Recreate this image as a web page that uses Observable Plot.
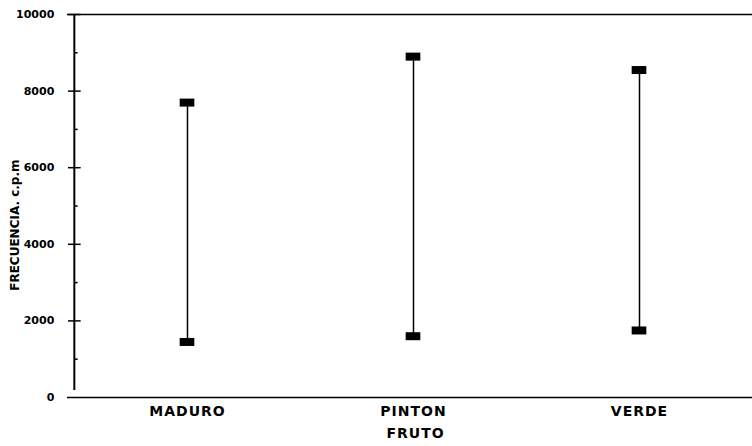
<!DOCTYPE html>
<html><head><meta charset="utf-8">
<script src="https://cdn.jsdelivr.net/npm/d3@7"></script>
<script src="https://cdn.jsdelivr.net/npm/@observablehq/plot@0.6"></script>
<style>body{margin:0;background:#fff}</style>
</head><body><div id="chart"></div>
<script>
const categories = ["MADURO", "PINTON", "VERDE"];
const minValues = [1450, 1600, 1750];
const maxValues = [7700, 8900, 8550];
const majorTicks = [0, 2000, 4000, 6000, 8000, 10000];
const minorTicks = [1000, 3000, 5000, 7000, 9000];
const xTitle = "FRUTO";
const yTitle = "FRECUENCIA. c.p.m";

const data = categories.map((c, i) => ({fruto: c, min: minValues[i], max: maxValues[i]}));
const points = data.flatMap(d => [{fruto: d.fruto, v: d.min}, {fruto: d.fruto, v: d.max}]);

const W = 752, H = 446, mL = 73, mR = 0, mT = 14, mB = 49;
const bw = (W - mL - mR) / categories.length;
const ins = (bw - 15) / 2;
const font = "DejaVu Sans, Liberation Sans, Arial, sans-serif";

const plot = Plot.plot({
  width: W, height: H,
  marginLeft: mL, marginRight: mR, marginTop: mT, marginBottom: mB,
  style: {fontFamily: font, fontSize: "11px", fontWeight: "bold", color: "#000", background: "#fff"},
  x: {type: "band", domain: categories, padding: 0, axis: null},
  y: {domain: [0, 10000], axis: null},
  marks: [
    Plot.ruleY([10000], {stroke: "#000", strokeWidth: 1.5, insetLeft: -6}),
    Plot.ruleY([0], {stroke: "#000", strokeWidth: 1.5, insetLeft: -6}),
    Plot.ruleX([0], {x: () => categories[0], y1: 180, y2: 10000, stroke: "#000", strokeWidth: 2, dx: -bw/2}),
    Plot.tickY(majorTicks.filter(t => t > 0), {x: () => categories[0], y: d => d, stroke: "#000", strokeWidth: 1.5, insetLeft: -6, insetRight: bw - 7}),
    Plot.tickY(minorTicks, {x: () => categories[0], y: d => d, stroke: "#000", strokeWidth: 1.5, insetLeft: 0, insetRight: bw - 4}),
    Plot.text(majorTicks, {x: () => categories[0], y: d => d, text: d => String(d), textAnchor: "end", dx: -bw/2 - 20, fontWeight: "bold", fontSize: 11}),
    Plot.ruleX(data, {x: "fruto", y1: "min", y2: "max", stroke: "#000", strokeWidth: 1.5}),
    Plot.tickY(points, {x: "fruto", y: "v", stroke: "#000", strokeWidth: 8, insetLeft: ins, insetRight: ins}),
    Plot.text(categories, {x: d => d, y: 0, text: d => d, dy: 14, fontWeight: "bold", fontSize: 14}),
    Plot.text([xTitle], {x: () => categories[1], y: 0, text: d => d, dy: 36, dx: 2, fontWeight: "bold", fontSize: 14}),
    Plot.text([yTitle], {x: () => categories[0], y: 4500, text: d => d, rotate: -90, dx: -bw/2 - 59, fontWeight: "bold", fontSize: 12})
  ]
});
d3.select(plot).selectAll("text")
  .filter(function() { return categories.includes(this.textContent) || this.textContent === xTitle; })
  .attr("letter-spacing", "1px");
document.getElementById("chart").append(plot);
</script>
</body></html>
